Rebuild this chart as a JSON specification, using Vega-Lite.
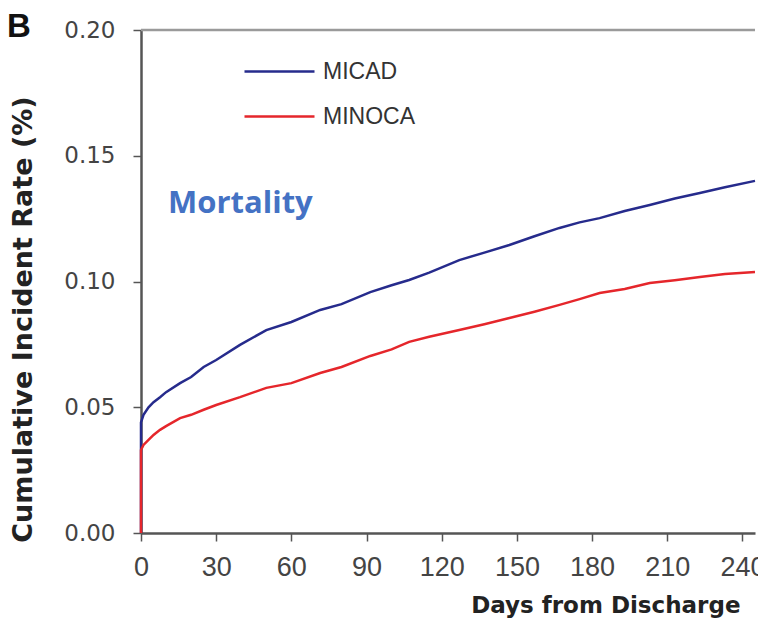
{
  "$schema": "https://vega.github.io/schema/vega-lite/v6.json",
  "width": 614,
  "height": 503,
  "autosize": {"type": "none"},
  "padding": {"left": 141, "top": 30, "right": 3, "bottom": 92},
  "background": "white",
  "config": {"view": {"stroke": null}},
  "title": {"text": "B", "anchor": "start", "frame": "group", "dx": -134, "dy": 51, "offset": 0, "baseline": "alphabetic", "font": "Liberation Sans", "fontSize": 33, "fontWeight": "bold", "color": "#111"},
  "datasets": {
    "curves": [
      {"group": "MICAD", "day": 0, "rate": 0},
      {"group": "MICAD", "day": 0, "rate": 0.044},
      {"group": "MICAD", "day": 1, "rate": 0.047},
      {"group": "MICAD", "day": 3, "rate": 0.05},
      {"group": "MICAD", "day": 5, "rate": 0.052},
      {"group": "MICAD", "day": 7.6, "rate": 0.054},
      {"group": "MICAD", "day": 10, "rate": 0.056},
      {"group": "MICAD", "day": 15.6, "rate": 0.0596},
      {"group": "MICAD", "day": 20, "rate": 0.062},
      {"group": "MICAD", "day": 25, "rate": 0.066},
      {"group": "MICAD", "day": 30, "rate": 0.0688},
      {"group": "MICAD", "day": 39.5, "rate": 0.0748},
      {"group": "MICAD", "day": 50, "rate": 0.0807},
      {"group": "MICAD", "day": 60, "rate": 0.0839},
      {"group": "MICAD", "day": 71.5, "rate": 0.0887},
      {"group": "MICAD", "day": 80, "rate": 0.091},
      {"group": "MICAD", "day": 91.5, "rate": 0.0958},
      {"group": "MICAD", "day": 100, "rate": 0.0985},
      {"group": "MICAD", "day": 107, "rate": 0.1006},
      {"group": "MICAD", "day": 115, "rate": 0.1035},
      {"group": "MICAD", "day": 127, "rate": 0.1085},
      {"group": "MICAD", "day": 137, "rate": 0.1115},
      {"group": "MICAD", "day": 147, "rate": 0.1145},
      {"group": "MICAD", "day": 157, "rate": 0.118},
      {"group": "MICAD", "day": 167, "rate": 0.1213},
      {"group": "MICAD", "day": 175, "rate": 0.1235},
      {"group": "MICAD", "day": 183, "rate": 0.1252},
      {"group": "MICAD", "day": 193, "rate": 0.128},
      {"group": "MICAD", "day": 203, "rate": 0.1304},
      {"group": "MICAD", "day": 213, "rate": 0.133},
      {"group": "MICAD", "day": 223, "rate": 0.1352},
      {"group": "MICAD", "day": 233, "rate": 0.1375},
      {"group": "MICAD", "day": 245, "rate": 0.14},
      {"group": "MINOCA", "day": 0, "rate": 0},
      {"group": "MINOCA", "day": 0, "rate": 0.033},
      {"group": "MINOCA", "day": 1, "rate": 0.035},
      {"group": "MINOCA", "day": 3, "rate": 0.037},
      {"group": "MINOCA", "day": 5, "rate": 0.039},
      {"group": "MINOCA", "day": 7.6, "rate": 0.041},
      {"group": "MINOCA", "day": 10, "rate": 0.0425},
      {"group": "MINOCA", "day": 15.6, "rate": 0.0457},
      {"group": "MINOCA", "day": 20, "rate": 0.047},
      {"group": "MINOCA", "day": 25, "rate": 0.049},
      {"group": "MINOCA", "day": 30, "rate": 0.0509},
      {"group": "MINOCA", "day": 39.5, "rate": 0.054},
      {"group": "MINOCA", "day": 50, "rate": 0.0577},
      {"group": "MINOCA", "day": 60, "rate": 0.0596},
      {"group": "MINOCA", "day": 71.5, "rate": 0.0636},
      {"group": "MINOCA", "day": 80, "rate": 0.066},
      {"group": "MINOCA", "day": 91.5, "rate": 0.0704},
      {"group": "MINOCA", "day": 100, "rate": 0.073},
      {"group": "MINOCA", "day": 107, "rate": 0.076},
      {"group": "MINOCA", "day": 115, "rate": 0.078},
      {"group": "MINOCA", "day": 127, "rate": 0.0807},
      {"group": "MINOCA", "day": 137, "rate": 0.083},
      {"group": "MINOCA", "day": 147, "rate": 0.0855},
      {"group": "MINOCA", "day": 157, "rate": 0.088},
      {"group": "MINOCA", "day": 167, "rate": 0.0907},
      {"group": "MINOCA", "day": 175, "rate": 0.093},
      {"group": "MINOCA", "day": 183, "rate": 0.0954},
      {"group": "MINOCA", "day": 193, "rate": 0.097},
      {"group": "MINOCA", "day": 203, "rate": 0.0994},
      {"group": "MINOCA", "day": 213, "rate": 0.1005},
      {"group": "MINOCA", "day": 223, "rate": 0.1018},
      {"group": "MINOCA", "day": 233, "rate": 0.103},
      {"group": "MINOCA", "day": 245, "rate": 0.1038}
    ]
  },
  "layer": [
    {
      "data": {"name": "curves"},
      "mark": {"type": "line", "strokeWidth": 2.5, "interpolate": "linear"},
      "encoding": {
        "x": {
          "field": "day", "type": "quantitative",
          "scale": {"domain": [0, 245], "nice": false, "zero": false},
          "axis": {
            "title": "Days from Discharge",
            "values": [0, 30, 60, 90, 120, 150, 180, 210, 240],
            "grid": false,
            "domainColor": "#555", "domainWidth": 2.5,
            "tickColor": "#555", "tickSize": 8, "tickWidth": 1.5,
            "labelFont": "Liberation Sans", "labelFontSize": 27, "labelColor": "#444", "labelPadding": 13,
            "labelFlush": false, "labelOverlap": false,
            "titleFont": "DejaVu Sans", "titleFontSize": 23, "titleFontWeight": "bold", "titleColor": "#222",
            "titleAnchor": "end", "titleAlign": "right", "titleX": 599, "titleY": 79, "titleBaseline": "alphabetic"
          }
        },
        "y": {
          "field": "rate", "type": "quantitative",
          "scale": {"domain": [0, 0.2], "nice": false},
          "axis": {
            "title": "Cumulative Incident Rate (%)",
            "values": [0, 0.05, 0.1, 0.15, 0.2],
            "format": ".2f",
            "grid": false,
            "domainColor": "#555", "domainWidth": 2.5,
            "tickColor": "#555", "tickSize": 8, "tickWidth": 1.5,
            "labelFont": "DejaVu Sans", "labelFontSize": 23, "labelColor": "#444", "labelPadding": 18,
            "labelFlush": false, "labelOverlap": false,
            "titleFont": "DejaVu Sans", "titleFontSize": 27, "titleFontWeight": "bold", "titleColor": "#222",
            "titleAngle": -90, "titleAlign": "center", "titleBaseline": "middle", "titleX": -118, "titleY": 289
          }
        },
        "color": {
          "field": "group", "type": "nominal",
          "scale": {"domain": ["MICAD", "MINOCA"], "range": ["#262b8c", "#e5262b"]},
          "legend": {
            "title": null,
            "orient": "none",
            "legendX": 127,
            "legendY": 30,
            "padding": 0,
            "symbolType": "M-3.5,0H3.5",
            "symbolSize": 400,
            "symbolStrokeWidth": 2.5,
            "labelFont": "Liberation Sans",
            "labelFontSize": 23,
            "labelColor": "#333",
            "labelOffset": 32,
            "rowPadding": 21
          }
        }
      }
    },
    {
      "data": {"values": [{}]},
      "mark": {"type": "text", "text": "Mortality", "font": "Open Sans", "fontSize": 31, "fontWeight": "bold", "color": "#4472c4", "align": "left", "baseline": "alphabetic"},
      "encoding": {
        "x": {"datum": 10.8, "type": "quantitative"},
        "y": {"datum": 0.1272, "type": "quantitative"}
      }
    },
    {
      "data": {"values": [{}]},
      "mark": {"type": "rule", "color": "#9a9a9a", "strokeWidth": 2.5},
      "encoding": {
        "x": {"datum": 0, "type": "quantitative"},
        "x2": {"datum": 245},
        "y": {"datum": 0.2, "type": "quantitative"}
      }
    }
  ]
}
